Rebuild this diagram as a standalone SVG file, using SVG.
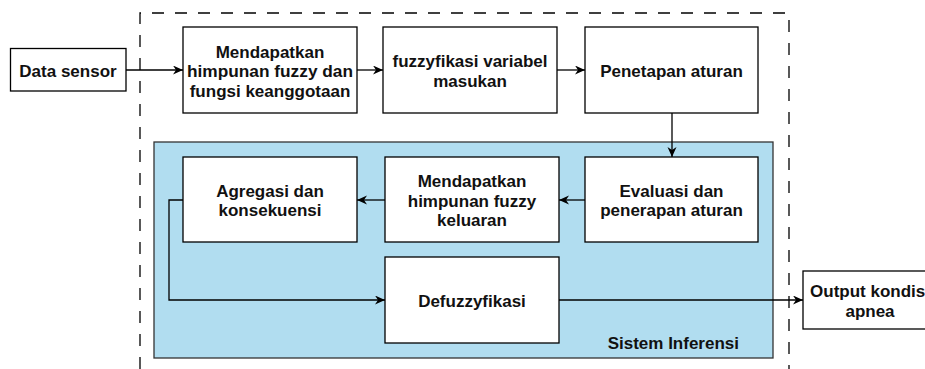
<svg xmlns="http://www.w3.org/2000/svg" width="925" height="369" viewBox="0 0 925 369">
<style>
.box{fill:#ffffff;stroke:#000000;stroke-width:1.3}
.lbl{font-family:"Liberation Sans",Arial,sans-serif;font-weight:bold;font-size:17px;fill:#111111;text-anchor:middle}
.edge{fill:none;stroke:#000000;stroke-width:1.3;marker-end:url(#arr)}
</style>
<defs>
<marker id="arr" markerUnits="userSpaceOnUse" markerWidth="11" markerHeight="10" refX="10" refY="4.5" orient="auto">
<path d="M0,0 L10,4.5 L0,9 L3,4.5 Z" fill="#000000"/>
</marker>
</defs>
<g id="frame">
<path d="M140,369 V13 H789 V369" fill="none" stroke="#000000" stroke-width="1.3" stroke-dasharray="12 11"/>
</g>
<g id="sistem-inferensi">
<rect x="154" y="142" width="619" height="216" fill="#b1ddf0" stroke="#333333" stroke-width="1.3"/>
<text class="lbl" x="739" y="349" style="text-anchor:end">Sistem Inferensi</text>
</g>
<g id="data-sensor">
<rect class="box" x="10.5" y="48.5" width="115.5" height="42.5"/>
<text class="lbl" x="68" y="77">Data sensor</text>
</g>
<g id="himpunan-fuzzy">
<rect class="box" x="183" y="27" width="174" height="86"/>
<text class="lbl" x="270" y="57.5">Mendapatkan</text>
<text class="lbl" x="270" y="77" textLength="166" lengthAdjust="spacingAndGlyphs">himpunan fuzzy dan</text>
<text class="lbl" x="270" y="96.5">fungsi keanggotaan</text>
</g>
<g id="fuzzyfikasi">
<rect class="box" x="383" y="27" width="174" height="86"/>
<text class="lbl" x="470" y="67">fuzzyfikasi variabel</text>
<text class="lbl" x="470" y="86.5">masukan</text>
</g>
<g id="penetapan">
<rect class="box" x="585" y="27" width="173" height="86"/>
<text class="lbl" x="671.5" y="77">Penetapan aturan</text>
</g>
<g id="evaluasi">
<rect class="box" x="585" y="157" width="173" height="85"/>
<text class="lbl" x="671.5" y="196.5">Evaluasi dan</text>
<text class="lbl" x="671.5" y="216">penerapan aturan</text>
</g>
<g id="himpunan-keluaran">
<rect class="box" x="385" y="157" width="174" height="85"/>
<text class="lbl" x="472" y="187">Mendapatkan</text>
<text class="lbl" x="472" y="206.5">himpunan fuzzy</text>
<text class="lbl" x="472" y="226">keluaran</text>
</g>
<g id="agregasi">
<rect class="box" x="183" y="157" width="174" height="85"/>
<text class="lbl" x="270" y="196.5">Agregasi dan</text>
<text class="lbl" x="270" y="216">konsekuensi</text>
</g>
<g id="defuzzyfikasi">
<rect class="box" x="385" y="257" width="174" height="86"/>
<text class="lbl" x="472" y="307">Defuzzyfikasi</text>
</g>
<g id="output">
<rect class="box" x="803" y="271" width="134" height="58"/>
<text class="lbl" x="870" y="297">Output kondisi</text>
<text class="lbl" x="870" y="316.5">apnea</text>
</g>
<g id="connectors">
<path class="edge" d="M126,70 H183"/>
<path class="edge" d="M357,70 H383"/>
<path class="edge" d="M557,70 H585"/>
<path class="edge" d="M672,113 V157"/>
<path class="edge" d="M585,200 H559"/>
<path class="edge" d="M385,200 H357"/>
<path class="edge" d="M183,200 H169 V300 H385"/>
<path class="edge" d="M559,300 H803"/>
</g>
</svg>
